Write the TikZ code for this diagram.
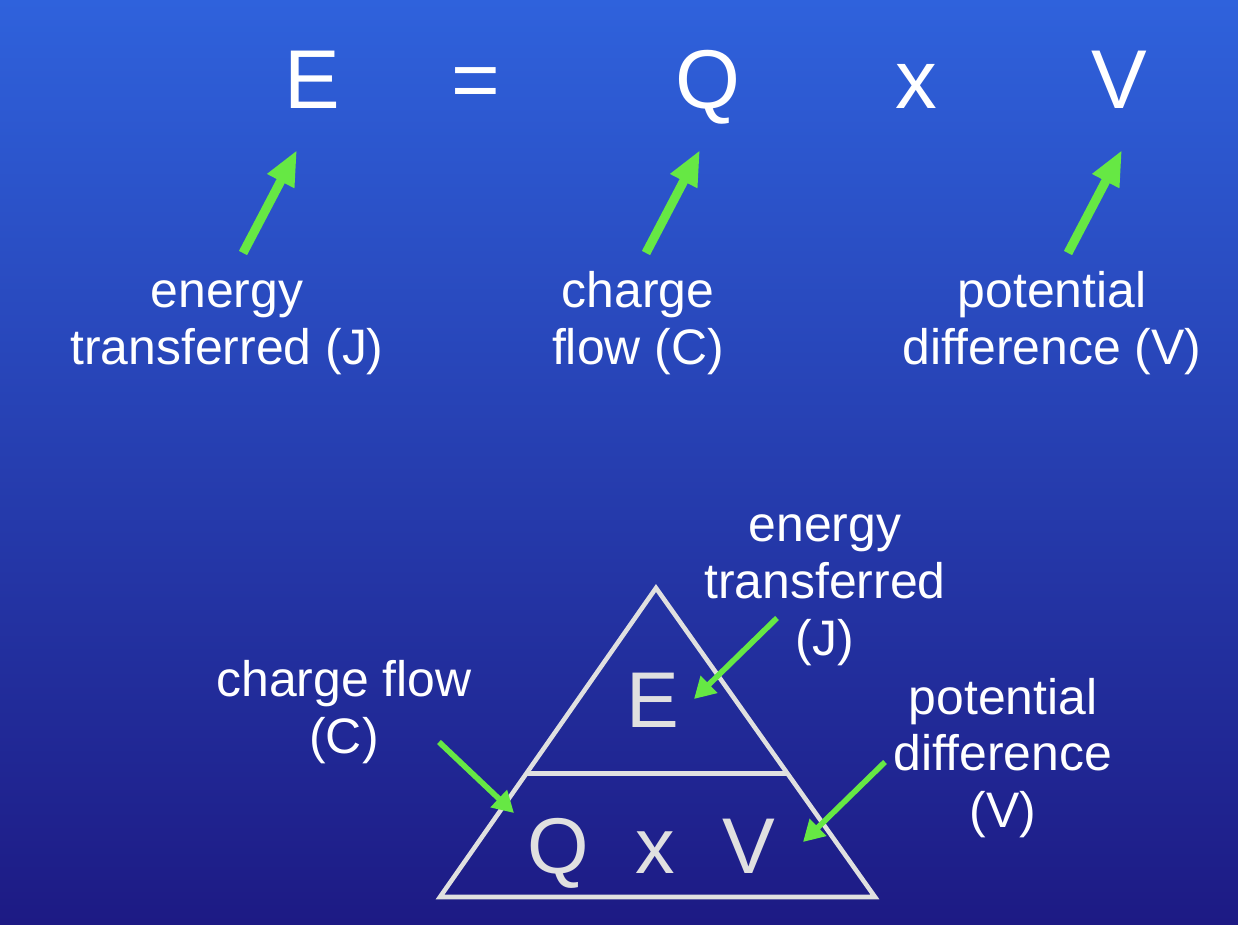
\documentclass[tikz,border=0pt]{standalone}
\usepackage{fontspec}
\setmainfont{Liberation Sans}
\usetikzlibrary{arrows.meta,calc}
\definecolor{bgtop}{HTML}{2F62DC}
\definecolor{bgbot}{HTML}{1D1A84}
\definecolor{arrgreen}{HTML}{66E844}
\definecolor{trigray}{HTML}{E0E0E0}
\begin{document}
\begin{tikzpicture}[x=0.02cm, y=-0.02cm,
  sym/.style={text=white, font=\fontsize{47.5}{50}\selectfont, anchor=base, inner sep=0pt},
  trisym/.style={text=trigray, font=\fontsize{45}{50}\selectfont, anchor=base, inner sep=0pt},
  lbl/.style={text=white, align=center, font=\fontsize{28.4}{32.4}\selectfont, inner sep=0pt},
  bigarr/.style={-{Triangle[width=16pt,length=20pt]}, line width=5.2pt, arrgreen},
  smallarr/.style={-{Triangle[width=13pt,length=12pt]}, line width=3.2pt, arrgreen},
  triline/.style={draw=trigray, line width=2.6pt}
]
  % Background
  \shade[top color=bgtop, bottom color=bgbot] (0,0) rectangle (1238,924);
  \useasboundingbox (0,0) rectangle (1238,924);

  % Equation
  \node[sym] (E) at (312,108) {E};
  \node[sym] (eq) at (476,108) {=};
  \node[sym] (Q) at (708,108) {Q};
  \node[sym] (times) at (916,108) {x};
  \node[sym] (V) at (1119,108) {V};

  % Labels
  \node[lbl] (lE) at (227,328) {energy\\transferred (J)};
  \node[lbl] (lQ) at (638,323) {charge\\flow (C)};
  \node[lbl] (lV) at (1052,323) {potential\\difference (V)};

  % Arrows
  \foreach \n/\x in {E/243, Q/646, V/1068} {
    \coordinate (t\n) at (\x,253);
    \coordinate (h\n) at (\x+54,150);
    \draw[bigarr] (t\n) -- (h\n);
  }

  % Triangle
  \coordinate (apex) at (656,588);
  \coordinate (bl) at (440,897);
  \coordinate (br) at (875,897);
  \draw[triline, line join=miter] (apex) -- (bl) -- (br) -- cycle;
  \draw[triline] ($(apex)!0.6!(bl)$) -- ($(apex)!0.6!(br)$);

  \node[trisym] (tE) at (653,727) {E};
  \node[trisym] (tQ) at (558,873) {Q};
  \node[trisym] (tx) at (655,873) {x};
  \node[trisym] (tV) at (749,873) {V};

  % Triangle labels
  \node[lbl] (bE) at (825,590) {energy\\transferred\\(J)};
  \node[lbl] (bQ) at (344,712) {charge flow\\(C)};
  \node[lbl] (bV) at (1003,758) {potential\\difference\\(V)};

  \coordinate (sE) at (777,618);
  \coordinate (eE) at (694,699);
  \coordinate (sQ) at (439,742);
  \coordinate (eQ) at (514,813);
  \coordinate (sV) at (885,762);
  \coordinate (eV) at (803,842);
  \draw[smallarr] (sE) -- (eE);
  \draw[smallarr] (sQ) -- (eQ);
  \draw[smallarr] (sV) -- (eV);
\end{tikzpicture}
\end{document}
